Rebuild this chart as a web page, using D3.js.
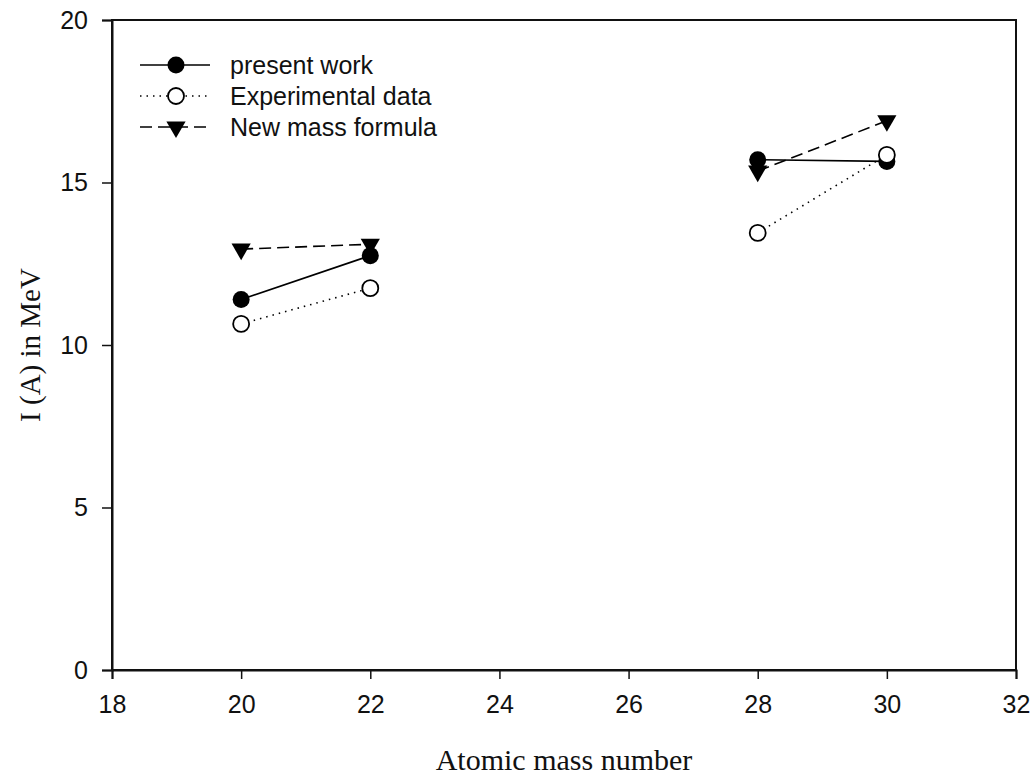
<!DOCTYPE html>
<html>
<head>
<meta charset="utf-8">
<script src="https://cdn.jsdelivr.net/npm/d3@7"></script>
<style>
  body { margin: 0; background: #fff; }
</style>
</head>
<body>
<div id="chart"></div>
<script>
// atomic mass numbers (two separate groups: 20-22 and 28-30)
var massGroups = [[20, 22], [28, 30]];

// I(A) values in MeV, same order as massGroups
var presentWork  = [[11.4, 12.75], [15.7, 15.65]];
var experimental = [[10.65, 11.75], [13.45, 15.85]];
var newMassForm  = [[12.95, 13.1], [15.35, 16.9]];

var seriesNames = ["present work", "Experimental data", "New mass formula"];
var xTicks = [18, 20, 22, 24, 26, 28, 30, 32];
var yTicks = [0, 5, 10, 15, 20];

var width = 1030, height = 776,
    margin = {top: 20, right: 14, bottom: 106, left: 112};

var svg = d3.select("#chart").append("svg")
    .attr("width", width)
    .attr("height", height);

var x = d3.scaleLinear().domain([18, 32]).range([margin.left, width - margin.right]);
var y = d3.scaleLinear().domain([0, 20]).range([height - margin.bottom, margin.top]);

// frame
svg.append("rect")
    .attr("x", x(18)).attr("y", y(20))
    .attr("width", x(32) - x(18)).attr("height", y(0) - y(20))
    .attr("fill", "none").attr("stroke", "#111").attr("stroke-width", 2);

// axes
var xAxis = svg.append("g")
    .attr("transform", "translate(0," + y(0) + ")")
    .call(d3.axisBottom(x).tickValues(xTicks).tickSize(9).tickPadding(16).tickFormat(d3.format("d")));
var yAxis = svg.append("g")
    .attr("transform", "translate(" + x(18) + ",0)")
    .call(d3.axisLeft(y).tickValues(yTicks).tickSize(10).tickPadding(14).tickFormat(d3.format("d")));
[xAxis, yAxis].forEach(function(a) {
  a.select(".domain").attr("stroke", "#111").attr("stroke-width", 2);
  a.selectAll(".tick line").attr("stroke", "#111").attr("stroke-width", 1.5);
  a.selectAll(".tick text")
    .style("font-family", "'Liberation Sans', Arial, sans-serif")
    .style("font-size", "25px")
    .style("fill", "#111");
});

// axis titles
svg.append("text")
    .attr("x", (x(18) + x(32)) / 2).attr("y", 770)
    .attr("text-anchor", "middle")
    .style("font-family", "'Liberation Serif', 'Times New Roman', serif")
    .style("font-size", "30px").style("fill", "#111")
    .text("Atomic mass number");
svg.append("text")
    .attr("transform", "translate(40," + y(10) + ") rotate(-90)")
    .attr("text-anchor", "middle")
    .style("font-family", "'Liberation Serif', 'Times New Roman', serif")
    .style("font-size", "29px").style("fill", "#111")
    .text("I (A) in MeV");

var styles = [
  {data: presentWork,  dash: null,   marker: "dot"},
  {data: experimental, dash: "1.5,5", marker: "ring"},
  {data: newMassForm,  dash: "12,6", marker: "tri"}
];

var line = d3.line().x(function(d) { return x(d[0]); }).y(function(d) { return y(d[1]); });
var triangle = d3.symbol().type(d3.symbolTriangle).size(160);

var drawMarker = function(g, m, cx, cy) {
  if (m === "dot") {
    g.append("circle").attr("cx", cx).attr("cy", cy).attr("r", 8.5).attr("fill", "#000");
  } else if (m === "ring") {
    g.append("circle").attr("cx", cx).attr("cy", cy).attr("r", 8)
      .attr("fill", "#fff").attr("stroke", "#000").attr("stroke-width", 1.8);
  } else {
    g.append("path").attr("d", triangle)
      .attr("transform", "translate(" + cx + "," + cy + ") rotate(180)")
      .attr("fill", "#000");
  }
};

// lines first, then markers
styles.forEach(function(s) {
  massGroups.forEach(function(xs, gi) {
    var pts = xs.map(function(a, i) { return [a, s.data[gi][i]]; });
    svg.append("path")
      .attr("d", line(pts))
      .attr("fill", "none").attr("stroke", "#000").attr("stroke-width", 1.6)
      .attr("stroke-dasharray", s.dash);
  });
});
styles.forEach(function(s) {
  var g = svg.append("g");
  massGroups.forEach(function(xs, gi) {
    xs.forEach(function(a, i) { drawMarker(g, s.marker, x(a), y(s.data[gi][i])); });
  });
});

// legend
var legend = svg.append("g");
styles.forEach(function(s, i) {
  var ly = 65 + i * 31;
  legend.append("line")
    .attr("x1", 140).attr("x2", 210).attr("y1", ly).attr("y2", ly)
    .attr("stroke", "#000").attr("stroke-width", 1.6)
    .attr("stroke-dasharray", s.dash);
  drawMarker(legend, s.marker, 176, ly);
  legend.append("text")
    .attr("x", 230).attr("y", ly + 9)
    .style("font-family", "'Liberation Sans', Arial, sans-serif")
    .style("font-size", "25px").style("fill", "#111")
    .text(seriesNames[i]);
});
</script>
</body>
</html>
